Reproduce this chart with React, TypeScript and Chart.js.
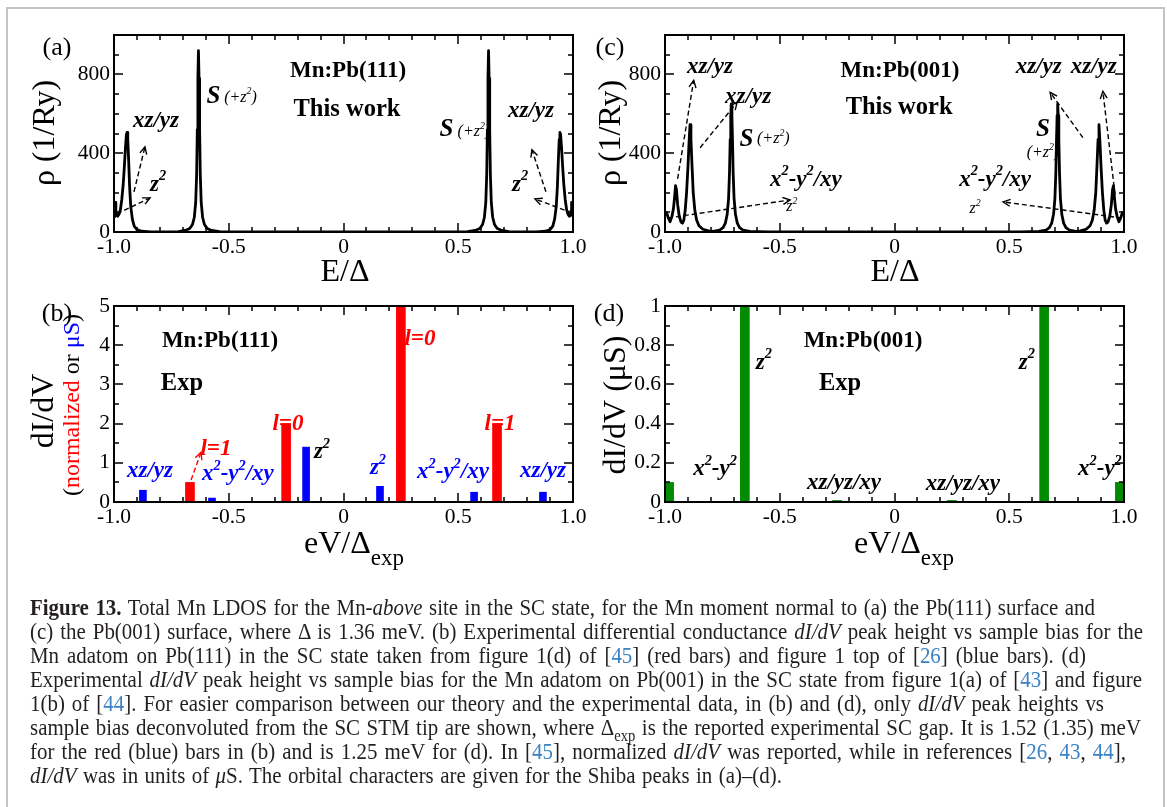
import React, { useEffect, useLayoutEffect, useRef } from 'react';
import { Chart, registerables } from 'chart.js';

Chart.register(...registerables);

const SERIF = '"Liberation Serif", "Times New Roman", Times, serif';

// ---------- Panel (a): Mn:Pb(111) theory LDOS ----------
const A_E = [-1.000,-0.997,-0.994,-0.992,-0.989,-0.984,-0.978,-0.972,-0.966,-0.960,-0.955,-0.950,-0.946,-0.943,-0.940,-0.936,-0.932,-0.927,-0.920,-0.912,-0.900,-0.880,-0.840,
  -0.720,-0.690,-0.670,-0.658,-0.650,-0.644,-0.640,-0.637,-0.6345,-0.632,-0.6295,-0.627,-0.624,-0.620,-0.614,-0.606,-0.594,-0.574,-0.540,
  -0.400,0.000,0.400,
  0.540,0.574,0.594,0.606,0.614,0.620,0.624,0.627,0.6295,0.632,0.6345,0.637,0.640,0.644,0.650,0.658,0.670,0.690,0.720,
  0.840,0.880,0.900,0.912,0.920,0.927,0.932,0.936,0.940,0.943,0.946,0.950,0.955,0.960,0.966,0.972,0.978,0.984,0.989,0.992,0.994,0.997,1.000];
const A_RHO = [78,95,150,110,85,80,90,115,165,240,330,430,495,505,470,360,230,130,65,30,12,4,1,
  2,8,18,38,75,150,290,520,780,920,780,520,290,150,75,38,18,8,2,
  0,0,0,
  2,8,18,38,75,150,290,520,780,920,780,520,290,150,75,38,18,8,2,
  1,4,12,30,65,130,230,360,470,505,495,430,330,240,165,115,90,80,85,110,150,95,78];

// ---------- Panel (c): Mn:Pb(001) theory LDOS ----------
const C_E = [-1.000,-0.993,-0.985,-0.978,-0.970,-0.963,-0.958,-0.954,-0.950,-0.945,-0.938,-0.930,-0.924,-0.918,-0.912,-0.906,-0.900,-0.895,-0.891,-0.887,-0.882,-0.877,-0.870,-0.862,-0.852,-0.835,-0.810,
  -0.790,-0.762,-0.747,-0.737,-0.729,-0.723,-0.719,-0.716,-0.7135,-0.711,-0.7085,-0.706,-0.703,-0.699,-0.693,-0.685,-0.675,-0.660,-0.630,-0.550,
  -0.400,0.000,0.400,
  0.550,0.630,0.660,0.675,0.685,0.693,0.699,0.703,0.706,0.7085,0.711,0.7135,0.716,0.719,0.723,0.729,0.737,0.747,0.762,0.790,
  0.810,0.835,0.852,0.862,0.870,0.877,0.882,0.887,0.891,0.895,0.900,0.906,0.912,0.918,0.924,0.930,0.938,0.945,0.950,0.954,0.958,0.963,0.970,0.978,0.985,0.993,1.000];
const C_RHO = [88,98,70,52,78,120,180,235,215,140,80,50,45,60,110,200,330,460,545,470,330,200,110,60,32,14,6,
  3,10,22,45,90,170,300,470,590,650,590,470,300,170,90,45,22,10,3,1,
  0,0,0,
  1,3,10,22,45,90,170,300,470,590,650,590,470,300,170,90,45,22,10,3,
  6,14,32,60,110,200,330,470,545,460,330,200,110,60,45,50,80,140,215,235,180,120,78,52,70,98,88];

// ---------- Panel (b): Mn:Pb(111) experiment ----------
const B_RED_X = [-0.669, -0.250, 0.250, 0.669];
const B_RED_Y = [0.5, 2.0, 5.0, 2.0];
const B_BLUE_X = [-0.874, -0.573, -0.163, 0.159, 0.569, 0.869];
const B_BLUE_Y = [0.3, 0.1, 1.4, 0.4, 0.25, 0.25];

// ---------- Panel (d): Mn:Pb(001) experiment ----------
const D_X = [-0.982, -0.652, -0.250, 0.250, 0.652, 0.982];
const D_Y = [0.1, 1.0, 0.008, 0.008, 1.0, 0.1];

// ---------- Tick values / labels ----------
const X_TICKS = [-1, -0.5, 0, 0.5, 1];
const X_LABELS = ['-1.0', '-0.5', '0', '0.5', '1.0'];
const RHO_TICKS = [0, 400, 800];
const RHO_LABELS = ['0', '400', '800'];
const B_TICKS = [0, 1, 2, 3, 4, 5];
const B_LABELS = ['0', '1', '2', '3', '4', '5'];
const D_TICKS = [0, 0.2, 0.4, 0.6, 0.8, 1];
const D_LABELS = ['0', '0.2', '0.4', '0.6', '0.8', '1'];

const RED = '#ff0000';
const BLUE = '#0000ff';
const GREEN = '#008b00';

type Seg = { t: string; dy?: number; k?: number; color?: string; bold?: boolean; italic?: boolean };

function rich(s: string, extra: Partial<Seg> = {}): Seg[] {
  const segs: Seg[] = [];
  let buf = '';
  let i = 0;
  const flush = () => { if (buf) { segs.push({ t: buf, ...extra }); buf = ''; } };
  while (i < s.length) {
    const c = s[i];
    if (c === '^' || c === '_') {
      flush();
      let tok = '';
      if (s[i + 1] === '{') { const j = s.indexOf('}', i + 2); tok = s.slice(i + 2, j); i = j + 1; }
      else { tok = s[i + 1]; i += 2; }
      if (c === '^') segs.push({ t: tok, dy: -0.45, k: 0.62, ...extra });
      else segs.push({ t: tok, dy: 0.38, k: 0.72, ...extra });
    } else { buf += c; i++; }
  }
  flush();
  return segs;
}

type Style = { size: number; bold?: boolean; italic?: boolean; color?: string; align?: 'left' | 'center' | 'right' };

function drawSegs(ctx: CanvasRenderingContext2D, segs: Seg[], x: number, y: number, st: Style) {
  const font = (sg: Seg) => {
    const it = sg.italic ?? st.italic; const bd = sg.bold ?? st.bold;
    return `${it ? 'italic ' : ''}${bd ? 'bold ' : ''}${(st.size * (sg.k ?? 1)).toFixed(1)}px ${SERIF}`;
  };
  const ws: number[] = [];
  let total = 0;
  for (const sg of segs) { ctx.font = font(sg); const w = ctx.measureText(sg.t).width; ws.push(w); total += w; }
  const align = st.align ?? 'center';
  let cx = align === 'center' ? x - total / 2 : align === 'right' ? x - total : x;
  const baseY = y + st.size * 0.34;
  ctx.textBaseline = 'alphabetic';
  ctx.textAlign = 'left';
  segs.forEach((sg, i) => {
    ctx.font = font(sg);
    ctx.fillStyle = sg.color ?? st.color ?? '#000';
    ctx.fillText(sg.t, cx, baseY + (sg.dy ?? 0) * st.size);
    cx += ws[i];
  });
}

function drawArrow(ctx: CanvasRenderingContext2D, x1: number, y1: number, x2: number, y2: number, color: string) {
  ctx.save();
  ctx.strokeStyle = color;
  ctx.lineWidth = 1.4;
  ctx.setLineDash([5, 3]);
  ctx.beginPath(); ctx.moveTo(x1, y1); ctx.lineTo(x2, y2); ctx.stroke();
  ctx.setLineDash([]);
  const a = Math.atan2(y2 - y1, x2 - x1);
  const L = 8, sp = 0.45;
  ctx.beginPath();
  ctx.moveTo(x2 - L * Math.cos(a - sp), y2 - L * Math.sin(a - sp));
  ctx.lineTo(x2, y2);
  ctx.lineTo(x2 - L * Math.cos(a + sp), y2 - L * Math.sin(a + sp));
  ctx.stroke();
  ctx.restore();
}

type Ann =
  | { t: 'text'; x: number; y: number; s: string; st: Style }
  | { t: 'arrow'; x1: number; y1: number; x2: number; y2: number; color?: string };

type PageText = { segs: Seg[]; x: number; y: number; st: Style; rot?: boolean };

interface Panel {
  kind: 'line' | 'bar';
  datasets: any[];
  area: { l: number; t: number; r: number; b: number };
  yMin: number; yMax: number; yTicks: number[]; yLabels: string[]; yMinor: number;
  page: PageText[];
  anns: Ann[];
}

const LBL: Style = { size: 23, bold: true, italic: true };
const TITLE: Style = { size: 23, bold: true };
const WORK: Style = { size: 24.5, bold: true };
const SMALL: Style = { size: 16, italic: true };
const AX: Style = { size: 32 };
const LET: Style = { size: 26 };

const PANELS: Panel[] = [
  {
    kind: 'line',
    datasets: [{ data: A_E.map((x, i) => ({ x, y: A_RHO[i] })), borderColor: '#000', borderWidth: 2.8, pointRadius: 0, tension: 0, fill: false, borderJoinStyle: 'round' }],
    area: { l: 114, t: 35, r: 573, b: 232 },
    yMin: 0, yMax: 1000, yTicks: RHO_TICKS, yLabels: RHO_LABELS, yMinor: 100,
    page: [
      { segs: rich('(a)'), x: 57, y: 46, st: LET },
      { segs: rich('ρ (1/Ry)'), x: 43, y: 133, st: AX, rot: true },
      { segs: rich('E/Δ'), x: 345, y: 270, st: AX },
    ],
    anns: [
      { t: 'text', x: 0.02, y: 826, s: 'Mn:Pb(111)', st: TITLE },
      { t: 'text', x: 0.015, y: 632, s: 'This work', st: WORK },
      { t: 'text', x: -0.817, y: 571, s: 'xz/yz', st: LBL },
      { t: 'arrow', x1: -0.913, y1: 204, x2: -0.865, y2: 433 },
      { t: 'text', x: -0.808, y: 250, s: 'z^2', st: LBL },
      { t: 'arrow', x1: -0.987, y1: 92, x2: -0.843, y2: 173 },
      { t: 'text', x: -0.597, y: 699, s: 'S', st: { ...LBL, size: 25, align: 'left' } },
      { t: 'text', x: -0.52, y: 690, s: '(+z^2)', st: { ...SMALL, align: 'left' } },
      { t: 'text', x: 0.418, y: 530, s: 'S', st: { ...LBL, size: 25, align: 'left' } },
      { t: 'text', x: 0.497, y: 515, s: '(+z^2)', st: { ...SMALL, align: 'left' } },
      { t: 'text', x: 0.817, y: 622, s: 'xz/yz', st: LBL },
      { t: 'arrow', x1: 0.882, y1: 204, x2: 0.821, y2: 418 },
      { t: 'text', x: 0.769, y: 250, s: 'z^2', st: LBL },
      { t: 'arrow', x1: 0.996, y1: 97, x2: 0.834, y2: 168 },
    ],
  },
  {
    kind: 'line',
    datasets: [{ data: C_E.map((x, i) => ({ x, y: C_RHO[i] })), borderColor: '#000', borderWidth: 2.8, pointRadius: 0, tension: 0, fill: false, borderJoinStyle: 'round' }],
    area: { l: 665, t: 35, r: 1124, b: 232 },
    yMin: 0, yMax: 1000, yTicks: RHO_TICKS, yLabels: RHO_LABELS, yMinor: 100,
    page: [
      { segs: rich('(c)'), x: 610, y: 46, st: LET },
      { segs: rich('ρ (1/Ry)'), x: 609, y: 133, st: AX, rot: true },
      { segs: rich('E/Δ'), x: 895, y: 270, st: AX },
    ],
    anns: [
      { t: 'text', x: 0.024, y: 826, s: 'Mn:Pb(001)', st: TITLE },
      { t: 'text', x: 0.02, y: 643, s: 'This work', st: WORK },
      { t: 'text', x: -0.804, y: 847, s: 'xz/yz', st: LBL },
      { t: 'arrow', x1: -0.945, y1: 270, x2: -0.875, y2: 770 },
      { t: 'text', x: -0.638, y: 694, s: 'xz/yz', st: LBL },
      { t: 'arrow', x1: -0.847, y1: 428, x2: -0.686, y2: 658 },
      { t: 'text', x: -0.675, y: 479, s: 'S', st: { ...LBL, size: 25, align: 'left' } },
      { t: 'text', x: -0.599, y: 479, s: '(+z^2)', st: { ...SMALL, align: 'left' } },
      { t: 'text', x: -0.386, y: 275, s: 'x^2-y^2/xy', st: LBL },
      { t: 'text', x: -0.447, y: 133, s: 'z^2', st: SMALL },
      { t: 'arrow', x1: -0.987, y1: 71, x2: -0.455, y2: 163 },
      { t: 'text', x: 0.628, y: 847, s: 'xz/yz', st: LBL },
      { t: 'arrow', x1: 0.821, y1: 479, x2: 0.678, y2: 709 },
      { t: 'text', x: 0.868, y: 847, s: 'xz/yz', st: LBL },
      { t: 'arrow', x1: 0.961, y1: 189, x2: 0.908, y2: 714 },
      { t: 'text', x: 0.647, y: 530, s: 'S', st: { ...LBL, size: 25 } },
      { t: 'text', x: 0.647, y: 408, s: '(+z^2)', st: SMALL },
      { t: 'text', x: 0.438, y: 275, s: 'x^2-y^2/xy', st: LBL },
      { t: 'text', x: 0.351, y: 122, s: 'z^2', st: SMALL },
      { t: 'arrow', x1: 0.991, y1: 71, x2: 0.473, y2: 153 },
    ],
  },
  {
    kind: 'bar',
    datasets: [
      { data: B_RED_X.map((x, i) => ({ x, y: B_RED_Y[i] })), backgroundColor: RED, barThickness: 9, grouped: false, borderWidth: 0 },
      { data: B_BLUE_X.map((x, i) => ({ x, y: B_BLUE_Y[i] })), backgroundColor: BLUE, barThickness: 7, grouped: false, borderWidth: 0 },
    ],
    area: { l: 114, t: 306, r: 573, b: 502 },
    yMin: 0, yMax: 5, yTicks: B_TICKS, yLabels: B_LABELS, yMinor: 0.5,
    page: [
      { segs: rich('(b)'), x: 57, y: 312, st: LET },
      { segs: rich('dI/dV'), x: 42, y: 411, st: AX, rot: true },
      { segs: [{ t: '(' }, { t: 'normalized', color: RED }, { t: ' or ' }, { t: 'μS', color: BLUE }, { t: ')' }], x: 71, y: 405, st: { size: 24 }, rot: true },
      { segs: rich('eV/Δ_{exp}'), x: 354, y: 542, st: AX },
    ],
    anns: [
      { t: 'text', x: -0.538, y: 4.16, s: 'Mn:Pb(111)', st: TITLE },
      { t: 'text', x: -0.704, y: 3.07, s: 'Exp', st: WORK },
      { t: 'text', x: -0.843, y: 0.84, s: 'xz/yz', st: { ...LBL, color: BLUE } },
      { t: 'text', x: -0.556, y: 1.40, s: 'l=1', st: { ...LBL, color: RED } },
      { t: 'arrow', x1: -0.664, y1: 0.56, x2: -0.621, y2: 1.27, color: RED },
      { t: 'text', x: -0.46, y: 0.76, s: 'x^2-y^2/xy', st: { ...LBL, color: BLUE } },
      { t: 'text', x: -0.242, y: 2.03, s: 'l=0', st: { ...LBL, color: RED } },
      { t: 'text', x: -0.094, y: 1.32, s: 'z^2', st: LBL },
      { t: 'text', x: 0.150, y: 0.91, s: 'z^2', st: { ...LBL, color: BLUE } },
      { t: 'text', x: 0.333, y: 4.21, s: 'l=0', st: { ...LBL, color: RED } },
      { t: 'text', x: 0.477, y: 0.81, s: 'x^2-y^2/xy', st: { ...LBL, color: BLUE } },
      { t: 'text', x: 0.682, y: 2.03, s: 'l=1', st: { ...LBL, color: RED } },
      { t: 'text', x: 0.869, y: 0.84, s: 'xz/yz', st: { ...LBL, color: BLUE } },
    ],
  },
  {
    kind: 'bar',
    datasets: [
      { data: D_X.map((x, i) => ({ x, y: D_Y[i] })), backgroundColor: GREEN, barThickness: 9, grouped: false, borderWidth: 0 },
    ],
    area: { l: 665, t: 306, r: 1124, b: 502 },
    yMin: 0, yMax: 1, yTicks: D_TICKS, yLabels: D_LABELS, yMinor: 0.1,
    page: [
      { segs: rich('(d)'), x: 609, y: 312, st: LET },
      { segs: rich('dI/dV (μS)'), x: 614, y: 405, st: AX, rot: true },
      { segs: rich('eV/Δ_{exp}'), x: 904, y: 542, st: AX },
    ],
    anns: [
      { t: 'text', x: -0.137, y: 0.832, s: 'Mn:Pb(001)', st: TITLE },
      { t: 'text', x: -0.237, y: 0.614, s: 'Exp', st: WORK },
      { t: 'text', x: -0.569, y: 0.72, s: 'z^2', st: LBL },
      { t: 'text', x: 0.577, y: 0.72, s: 'z^2', st: LBL },
      { t: 'text', x: -0.782, y: 0.178, s: 'x^2-y^2', st: LBL },
      { t: 'text', x: 0.895, y: 0.178, s: 'x^2-y^2', st: LBL },
      { t: 'text', x: -0.22, y: 0.107, s: 'xz/yz/xy', st: LBL },
      { t: 'text', x: 0.298, y: 0.102, s: 'xz/yz/xy', st: LBL },
    ],
  },
];

function makeChart(canvas: HTMLCanvasElement, p: Panel) {
  const W = canvas.width, H = canvas.height;
  const YW = 60, XH = 40;
  const decor = {
    id: 'decor',
    afterDraw(chart: any) {
      const ctx = chart.ctx as CanvasRenderingContext2D;
      const xs = chart.scales.x, ys = chart.scales.y;
      const { left, right, top, bottom } = chart.chartArea;
      ctx.save();
      ctx.strokeStyle = '#000';
      ctx.lineWidth = 1.5;
      for (let i = 1; i < 20; i++) {
        const v = -1 + i * 0.1;
        const len = i % 5 === 0 ? 9 : 5;
        const px = Math.round(xs.getPixelForValue(v));
        ctx.beginPath();
        ctx.moveTo(px, bottom); ctx.lineTo(px, bottom - len);
        ctx.moveTo(px, top); ctx.lineTo(px, top + len);
        ctx.stroke();
      }
      const ny = Math.round((p.yMax - p.yMin) / p.yMinor);
      for (let i = 1; i < ny; i++) {
        const v = p.yMin + i * p.yMinor;
        const major = p.yTicks.some((t) => Math.abs(t - v) < 1e-9);
        const len = major ? 9 : 5;
        const py = Math.round(ys.getPixelForValue(v));
        ctx.beginPath();
        ctx.moveTo(left, py); ctx.lineTo(left + len, py);
        ctx.moveTo(right, py); ctx.lineTo(right - len, py);
        ctx.stroke();
      }
      ctx.lineWidth = 2;
      ctx.strokeRect(left, top, right - left, bottom - top);
      for (const pt of p.page) {
        if (pt.rot) {
          ctx.save();
          ctx.translate(pt.x, pt.y);
          ctx.rotate(-Math.PI / 2);
          drawSegs(ctx, pt.segs, 0, 0, pt.st);
          ctx.restore();
        } else {
          drawSegs(ctx, pt.segs, pt.x, pt.y, pt.st);
        }
      }
      for (const a of p.anns) {
        if (a.t === 'text') {
          drawSegs(ctx, rich(a.s), xs.getPixelForValue(a.x), ys.getPixelForValue(a.y), a.st);
        } else {
          drawArrow(ctx, xs.getPixelForValue(a.x1), ys.getPixelForValue(a.y1), xs.getPixelForValue(a.x2), ys.getPixelForValue(a.y2), a.color ?? '#000');
        }
      }
      ctx.restore();
    },
  };
  const tickFont = { family: SERIF, size: 21.5 };
  return new Chart(canvas, {
    type: p.kind as any,
    data: { datasets: p.datasets },
    options: {
      responsive: false,
      animation: false,
      devicePixelRatio: 1,
      events: [],
      layout: { padding: { left: p.area.l - YW, top: p.area.t, right: W - p.area.r, bottom: H - p.area.b - XH } },
      plugins: { legend: { display: false }, tooltip: { enabled: false } },
      scales: {
        x: {
          type: 'linear', min: -1, max: 1, offset: false,
          grid: { display: false, drawTicks: false }, border: { display: false },
          ticks: { font: tickFont, color: '#000', padding: 2, autoSkip: false, maxRotation: 0, minRotation: 0, callback: (_v: any, i: number) => X_LABELS[i] },
          afterBuildTicks: (s: any) => { s.ticks = X_TICKS.map((v) => ({ value: v })); },
          afterFit: (s: any) => { s.height = XH; },
        },
        y: {
          type: 'linear', min: p.yMin, max: p.yMax,
          grid: { display: false, drawTicks: false }, border: { display: false },
          ticks: { font: tickFont, color: '#000', padding: 4, autoSkip: false, callback: (_v: any, i: number) => p.yLabels[i] },
          afterBuildTicks: (s: any) => { s.ticks = p.yTicks.map((v) => ({ value: v })); },
          afterFit: (s: any) => { s.width = YW; },
        },
      },
    } as any,
    plugins: [decor],
  });
}

// ---------- Caption ----------
const REF = '#3a82c4';
const R = ({ n }: { n: string }) => <span style={{ color: REF }}>{n}</span>;
const I = ({ children }: { children: React.ReactNode }) => <i>{children}</i>;

const CAPTION_LINES: React.ReactNode[] = [
  <><b>Figure 13.</b> Total Mn LDOS for the Mn-<I>above</I> site in the SC state, for the Mn moment normal to (a) the Pb(111) surface and</>,
  <>(c) the Pb(001) surface, where Δ is 1.36 meV. (b) Experimental differential conductance <I>dI/dV</I> peak height vs sample bias for the</>,
  <>Mn adatom on Pb(111) in the SC state taken from figure 1(d) of [<R n="45" />] (red bars) and figure 1 top of [<R n="26" />] (blue bars). (d)</>,
  <>Experimental <I>dI/dV</I> peak height vs sample bias for the Mn adatom on Pb(001) in the SC state from figure 1(a) of [<R n="43" />] and figure</>,
  <>1(b) of [<R n="44" />]. For easier comparison between our theory and the experimental data, in (b) and (d), only <I>dI/dV</I> peak heights vs</>,
  <>sample bias deconvoluted from the SC STM tip are shown, where Δ<sub style={{ fontSize: '70%' }}>exp</sub> is the reported experimental SC gap. It is 1.52 (1.35) meV</>,
  <>for the red (blue) bars in (b) and is 1.25 meV for (d). In [<R n="45" />], normalized <I>dI/dV</I> was reported, while in references [<R n="26" />, <R n="43" />, <R n="44" />],</>,
  <><I>dI/dV</I> was in units of <I>μ</I>S. The orbital characters are given for the Shiba peaks in (a)–(d).</>,
];
const CAPTION_WIDTHS = [1065, 1113, 1056, 1112, 1074, 1111, 1096, 752];
const CAPTION_SQUEEZE = 0.93;

function Caption() {
  const refs = useRef<(HTMLSpanElement | null)[]>([]);
  useLayoutEffect(() => {
    const fit = () => {
      refs.current.forEach((el, i) => {
        if (!el) return;
        el.style.wordSpacing = '0px';
        const w = el.getBoundingClientRect().width;
        const spaces = (el.textContent || '').split(' ').length - 1;
        if (spaces > 0) el.style.wordSpacing = `${(CAPTION_WIDTHS[i] - w) / spaces / CAPTION_SQUEEZE}px`;
      });
    };
    fit();
    if ((document as any).fonts?.ready) (document as any).fonts.ready.then(fit);
  }, []);
  return (
    <div style={{ position: 'absolute', left: 30, top: 596, fontFamily: SERIF, fontSize: 22.5, lineHeight: '24px', color: '#231f20' }}>
      {CAPTION_LINES.map((ln, i) => (
        <div key={i} style={{ whiteSpace: 'nowrap', height: 24 }}>
          <span ref={(el) => { refs.current[i] = el; }} style={{ display: 'inline-block', transform: `scaleX(${CAPTION_SQUEEZE})`, transformOrigin: '0 50%' }}>{ln}</span>
        </div>
      ))}
    </div>
  );
}

export default function App() {
  const c0 = useRef<HTMLCanvasElement>(null);
  const c1 = useRef<HTMLCanvasElement>(null);
  const c2 = useRef<HTMLCanvasElement>(null);
  const c3 = useRef<HTMLCanvasElement>(null);
  const refs = [c0, c1, c2, c3];
  useEffect(() => {
    const charts = PANELS.map((p, i) => makeChart(refs[i].current!, p));
    return () => charts.forEach((c) => c.destroy());
  }, []);
  return (
    <div style={{ position: 'fixed', left: 0, top: 0, width: 1167, height: 807, background: '#fff', overflow: 'hidden' }}>
      <div style={{ position: 'absolute', left: 6, top: 7, width: 1155, height: 900, border: '2px solid #c4c4c4' }} />
      {refs.map((r, i) => (
        <canvas key={i} ref={r} width={1167} height={590} style={{ position: 'absolute', left: 0, top: 0 }} />
      ))}
      <Caption />
    </div>
  );
}
